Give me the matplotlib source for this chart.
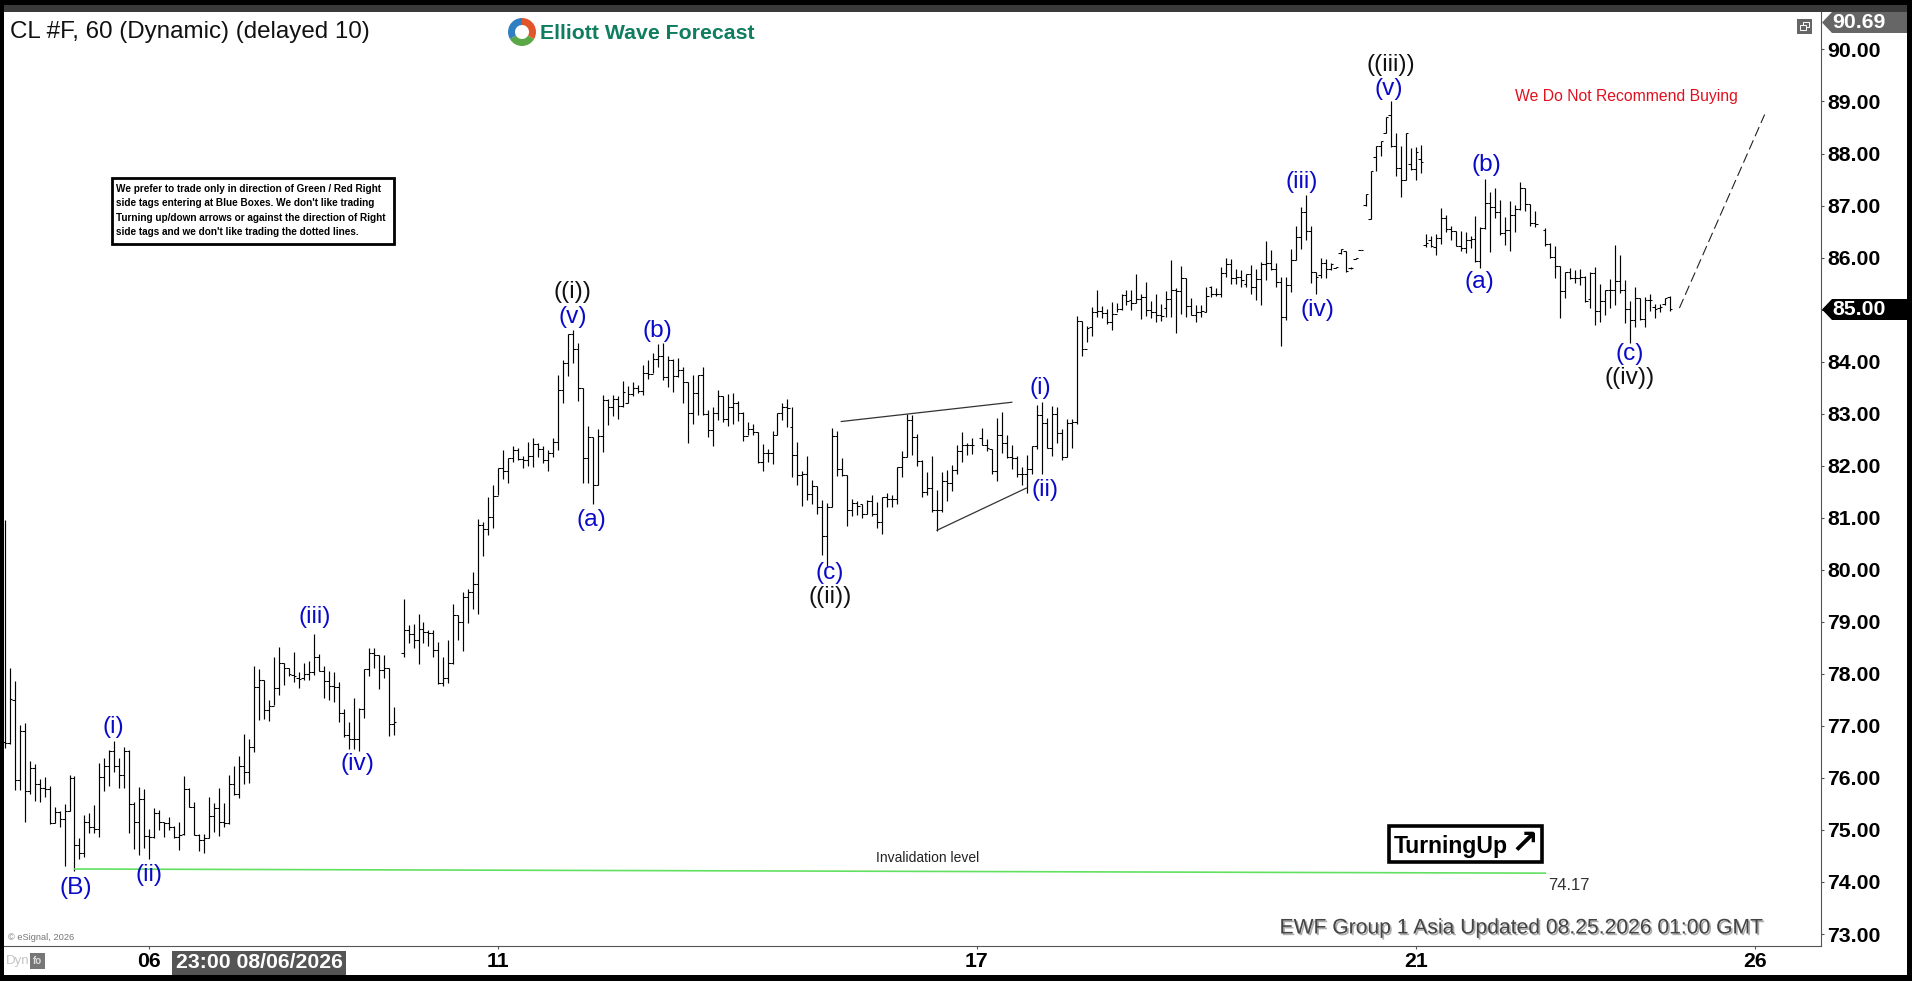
import numpy as np
import matplotlib
matplotlib.use("Agg")
import matplotlib.pyplot as plt
import matplotlib.patheffects as pe
from matplotlib.patches import Rectangle, Polygon, Wedge

# ---- data (price per 60 min bar, None = no bar) ----
opens = [
    76.70,76.67,77.50,75.96,76.90,75.74,76.19,75.88,75.80,75.79,
    75.13,75.35,75.22,75.37,75.99,74.72,74.56,75.16,75.05,75.02,
    76.01,76.22,76.52,76.23,76.06,76.52,75.50,75.15,75.60,74.88,
    74.86,75.33,75.16,75.13,75.05,74.86,74.93,75.78,75.45,74.90,
    74.81,74.84,75.26,75.42,75.16,75.14,75.88,75.69,76.23,76.12,
    76.59,77.74,77.88,77.30,77.39,77.72,78.21,78.11,77.98,77.93,
    77.93,77.99,78.04,78.32,78.05,77.86,77.77,77.74,77.24,76.82,
    76.74,76.74,77.32,78.09,78.41,78.36,78.07,78.11,77.03,None,
    78.41,78.84,78.77,78.66,78.87,78.81,78.79,78.46,77.82,77.93,
    78.20,79.13,79.00,79.47,79.57,79.72,80.86,80.78,81.02,81.42,
    81.95,81.90,82.14,82.31,82.12,82.11,82.19,82.42,82.33,82.11,
    82.24,82.46,83.45,83.97,84.53,84.24,83.49,82.15,82.56,81.63,
    82.57,83.26,83.13,83.28,83.15,83.21,83.38,83.50,83.44,83.79,
    83.76,84.06,84.11,83.70,84.03,83.72,83.84,83.60,83.01,83.39,
    83.74,82.99,82.69,83.01,83.34,82.89,83.13,83.20,83.02,82.58,
    82.70,82.64,82.08,82.25,82.24,82.59,83.01,83.12,82.74,82.21,
    81.82,81.85,81.46,81.62,81.21,80.65,81.21,82.57,81.93,81.82,
    81.15,81.28,81.26,81.07,81.33,81.07,80.92,81.39,81.37,81.37,
    81.98,82.16,82.88,82.56,82.10,81.50,81.57,81.14,81.15,81.71,
    81.66,81.92,82.28,82.40,82.39,None,82.53,82.40,82.33,81.89,
    82.59,82.43,82.16,82.14,81.85,81.85,81.93,82.38,82.98,82.83,
    82.35,82.99,82.62,82.16,82.83,82.85,84.79,84.24,84.66,84.96,
    84.98,84.94,84.77,84.91,85.02,85.28,85.18,85.12,85.20,85.24,
    85.00,84.96,84.90,85.04,85.20,85.38,85.36,85.60,85.07,84.90,
    84.96,84.95,85.44,85.30,85.30,85.70,85.88,85.60,85.62,85.50,
    85.68,85.43,85.58,85.88,85.90,85.79,85.54,84.85,85.47,85.95,
    86.40,86.88,86.51,85.73,85.66,85.90,85.79,85.80,86.08,86.13,
    85.80,85.98,86.14,87.01,86.75,87.93,88.15,88.40,88.74,88.14,
    87.73,87.50,87.80,87.70,87.90,86.24,86.34,86.21,86.37,86.76,
    86.55,86.51,86.22,86.18,86.34,86.35,85.94,86.56,87.05,86.97,
    86.88,86.47,86.53,86.81,86.93,87.33,87.03,86.66,None,86.53,
    86.26,86.02,85.84,85.36,85.72,85.60,85.60,85.62,85.20,85.70,
    84.98,85.16,85.37,85.38,85.55,85.38,85.01,84.80,85.22,84.82,
    85.19,85.06,85.03,85.10,85.25,
]
highs = [
    80.96,78.11,77.86,77.01,77.05,76.32,76.26,75.97,76.01,75.84,
    75.45,75.37,75.50,76.05,76.04,74.84,75.29,75.33,75.48,76.28,
    76.38,76.54,76.71,76.38,76.59,76.54,75.54,75.82,75.79,75.01,
    75.42,75.38,75.16,75.25,75.08,75.15,76.04,75.80,75.54,74.93,
    74.93,75.63,75.52,75.80,75.52,76.05,76.23,76.42,76.84,76.74,
    78.15,78.09,77.88,77.50,78.32,78.51,78.20,78.12,78.42,78.04,
    78.20,78.25,78.77,78.38,78.15,78.05,78.03,77.84,77.32,77.07,
    77.53,77.34,78.09,78.49,78.49,78.36,78.36,78.11,77.36,None,
    79.43,78.94,78.96,79.16,79.00,78.85,78.85,78.61,78.32,78.65,
    79.35,79.13,79.58,79.64,79.96,80.97,80.91,81.39,81.63,81.95,
    82.31,82.14,82.37,82.35,82.19,82.45,82.53,82.43,82.38,82.31,
    82.54,83.74,84.04,84.54,84.60,84.35,83.50,82.76,82.56,82.70,
    83.36,83.28,83.36,83.34,83.63,83.53,83.60,83.55,83.94,84.03,
    84.16,84.34,84.35,84.10,84.06,84.08,83.90,83.60,83.74,83.74,
    83.90,83.07,83.12,83.45,83.34,83.38,83.39,83.24,83.03,82.85,
    82.80,82.64,82.41,82.33,82.67,83.01,83.21,83.29,83.12,82.45,
    81.89,82.19,81.73,81.62,81.35,81.28,82.72,82.67,82.14,81.82,
    81.36,81.33,81.27,81.35,81.44,81.31,81.39,81.47,81.44,81.98,
    82.28,82.99,82.97,82.61,82.11,81.87,82.19,81.53,81.87,81.92,
    82.01,82.39,82.65,82.43,82.53,None,82.72,82.51,82.33,82.91,
    83.04,82.59,82.40,82.19,81.97,82.21,82.38,83.17,83.22,82.91,
    83.14,83.12,82.70,82.89,82.89,84.87,84.79,84.68,85.05,85.38,
    85.07,85.02,85.15,85.12,85.30,85.38,85.38,85.68,85.31,85.54,
    85.17,85.30,85.10,85.36,85.95,85.41,85.84,85.60,85.22,85.09,
    85.09,85.44,85.46,85.41,85.82,86.00,85.97,85.79,85.76,85.68,
    85.86,85.79,85.92,86.32,86.15,85.89,85.63,85.62,86.16,86.61,
    86.97,87.20,86.61,85.73,86.00,85.97,85.89,85.81,86.16,86.13,
    85.81,86.00,86.15,87.23,87.66,88.15,88.24,88.71,89.01,88.39,
    88.14,88.39,88.10,88.12,88.16,86.46,86.42,86.46,86.95,86.82,
    86.60,86.51,86.51,86.50,86.42,86.80,86.58,87.51,87.27,87.33,
    87.11,86.78,87.08,87.01,87.46,87.33,87.03,86.90,None,86.56,
    86.28,86.22,85.84,85.73,85.80,85.76,85.78,85.64,85.72,85.82,
    85.49,85.38,85.58,86.24,86.05,85.56,85.17,85.43,85.23,85.25,
    85.30,85.10,85.10,85.23,85.26,
]
lows = [
    76.57,76.65,75.76,75.77,75.15,75.70,75.56,75.53,75.63,75.11,
    75.14,75.06,74.30,75.37,74.22,74.44,74.49,74.95,74.94,74.87,
    75.74,75.85,76.12,75.80,75.80,74.94,74.63,74.52,74.65,74.44,
    74.84,75.00,74.86,75.00,74.84,74.61,74.90,75.44,74.90,74.60,
    74.56,74.84,74.97,74.88,75.06,75.11,75.67,75.61,75.89,75.91,
    76.50,77.11,77.13,77.10,77.40,77.59,77.79,77.95,77.85,77.72,
    77.88,77.89,77.98,78.05,77.54,77.50,77.45,77.08,76.78,76.56,
    76.56,76.52,77.16,77.95,78.12,77.71,77.93,76.81,76.82,None,
    78.32,78.59,78.49,78.18,78.59,78.54,78.32,77.80,77.77,77.82,
    78.19,78.66,78.43,78.97,79.25,79.16,80.27,80.66,80.81,81.44,
    81.75,81.66,82.08,82.11,81.96,82.00,81.98,82.16,82.06,81.90,
    82.16,82.31,83.21,83.73,83.97,83.25,81.66,81.66,81.26,81.63,
    82.27,82.78,82.96,82.90,83.13,83.20,83.34,83.40,83.36,83.66,
    83.78,83.90,83.65,83.52,83.42,83.70,83.20,82.44,82.81,82.97,
    82.97,82.55,82.38,82.88,82.85,82.77,82.81,82.86,82.48,82.60,
    82.60,82.06,81.89,82.08,82.03,82.59,82.88,82.74,81.79,81.63,
    81.23,81.34,81.26,81.08,80.28,80.07,81.20,81.81,81.80,80.85,
    81.04,81.05,81.00,81.07,81.04,80.81,80.69,81.20,81.20,81.27,
    81.78,82.16,82.21,82.00,81.40,81.44,81.12,80.75,81.12,81.33,
    81.52,81.84,82.08,82.21,82.22,None,82.40,82.29,81.85,81.71,
    82.25,82.14,81.93,81.79,81.63,81.48,81.84,82.32,81.85,82.35,
    82.19,82.43,82.11,82.16,82.34,82.80,84.11,84.37,84.49,84.86,
    84.83,84.73,84.61,84.96,85.00,85.09,85.00,85.12,84.82,84.88,
    84.83,84.77,84.79,84.85,84.86,84.56,84.91,84.86,84.90,84.77,
    84.86,84.95,85.25,85.26,85.25,85.62,85.49,85.49,85.44,85.43,
    85.31,85.18,85.09,85.56,85.76,85.43,84.30,84.81,85.34,85.95,
    86.16,86.34,85.52,85.30,85.60,85.60,85.77,85.80,86.07,85.73,
    85.79,85.98,86.14,87.00,86.75,87.67,87.96,88.40,88.12,87.57,
    87.17,87.49,87.68,87.50,87.63,86.21,86.20,86.05,86.26,86.50,
    86.33,86.22,86.12,86.08,86.18,85.92,85.80,86.55,86.10,86.76,
    86.44,86.24,86.13,86.50,86.92,86.90,86.60,86.58,None,86.23,
    85.99,85.60,84.83,85.22,85.58,85.51,85.48,85.14,85.03,84.71,
    84.77,84.89,85.03,85.08,85.32,84.75,84.35,84.66,84.80,84.66,
    84.98,84.83,84.96,85.09,84.98,
]
closes = [
    76.67,77.51,75.96,76.90,75.74,76.19,75.88,75.80,75.79,75.13,
    75.35,75.22,75.37,75.99,74.72,74.56,75.16,75.05,75.02,76.01,
    76.22,76.52,76.23,76.06,76.52,75.50,75.15,75.60,74.88,74.86,
    75.33,75.16,75.13,75.05,74.86,74.90,75.78,75.45,74.90,74.81,
    74.84,75.26,75.42,75.16,75.14,75.88,75.69,76.23,76.12,76.59,
    77.74,77.88,77.30,77.39,77.72,78.21,78.11,78.00,77.95,77.91,
    77.99,78.04,78.32,78.05,77.86,77.77,77.74,77.24,76.82,76.74,
    76.74,77.32,78.09,78.41,78.36,78.07,78.11,77.03,77.07,None,
    78.84,78.77,78.66,78.87,78.81,78.79,78.46,77.82,77.93,78.20,
    79.13,79.00,79.47,79.57,79.72,80.86,80.78,81.02,81.42,81.95,
    81.90,82.14,82.31,82.12,82.11,82.19,82.42,82.33,82.11,82.24,
    82.46,83.45,83.97,84.53,84.24,83.49,82.15,82.56,81.63,82.57,
    83.26,83.13,83.28,83.15,83.42,83.38,83.50,83.44,83.79,83.76,
    84.06,84.11,83.70,84.03,83.72,83.84,83.60,83.01,83.39,83.74,
    82.99,82.69,83.01,83.34,82.89,83.13,83.20,83.02,82.58,82.70,
    82.64,82.08,82.25,82.24,82.59,83.01,83.12,83.10,82.21,81.82,
    81.85,81.46,81.62,81.21,80.65,81.21,82.57,81.93,81.82,81.15,
    81.28,81.22,81.07,81.33,81.07,80.92,81.39,81.37,81.37,81.98,
    82.16,82.88,82.56,82.10,81.50,81.57,81.14,81.15,81.71,81.66,
    81.92,82.28,82.40,82.39,82.39,None,82.40,82.34,81.89,82.59,
    82.43,82.16,82.14,81.85,81.85,81.93,82.38,82.98,82.83,82.35,
    82.99,82.62,82.16,82.83,82.85,84.79,84.24,84.64,84.96,84.98,
    84.94,84.77,84.91,85.02,85.28,85.17,85.12,85.20,85.24,85.00,
    84.96,84.90,84.88,85.20,85.38,85.36,85.60,85.07,84.90,84.96,
    84.97,85.27,85.30,85.30,85.70,85.88,85.60,85.62,85.57,85.68,
    85.43,85.58,85.88,85.90,85.79,85.54,84.85,85.47,85.95,86.40,
    86.88,86.51,85.73,85.62,85.90,85.79,85.88,85.81,86.16,85.74,
    85.80,85.99,86.15,87.23,87.66,88.15,88.24,88.71,88.14,87.73,
    87.50,88.39,87.70,88.03,87.83,86.29,86.22,86.37,86.76,86.55,
    86.51,86.22,86.18,86.34,86.35,85.94,86.56,87.05,86.97,86.88,
    86.47,86.53,86.81,86.93,87.33,87.03,86.66,86.65,None,86.26,
    86.02,85.84,85.36,85.72,85.60,85.60,85.62,85.16,85.70,84.98,
    85.16,85.37,85.38,85.55,85.38,85.01,84.80,85.22,84.82,85.19,
    85.19,85.02,85.06,85.22,85.01,
]

price_ticks = list(range(73, 91))
date_bars = [29, 99, 195, 283, 351]
date_labels = ["06", "11", "17", "21", "26"]

blue_labels = ["(B)", "(i)", "(ii)", "(iii)", "(iv)", "(v)", "(a)", "(b)", "(c)",
               "(i)", "(ii)", "(iii)", "(iv)", "(v)", "(a)", "(b)", "(c)"]
blue_bars = [14.2, 21.8, 28.9, 62.2, 70.7, 114, 117.7, 130.9, 165.4,
             207.7, 208.7, 260.2, 263.2, 277.6, 295.7, 297.2, 326]
blue_prices = [73.88, 76.97, 74.13, 79.10, 76.27, 84.86, 80.95, 84.58, 79.94,
               83.50, 81.54, 87.46, 85.00, 89.24, 85.54, 87.77, 84.14]

black_labels = ["((i))", "((ii))", "((iii))", "((iv))"]
black_bars = [113.8, 165.6, 278.1, 326]
black_prices = [85.33, 79.47, 89.71, 83.69]

invalid_bars = [14, 309]
invalid_prices = [74.25, 74.17]
wedge_top_bars = [167.8, 202]
wedge_top_prices = [82.85, 83.22]
wedge_low_bars = [187, 204.9]
wedge_low_prices = [80.76, 81.57]
path_bars = [335.9, 353]
path_prices = [85.03, 88.75]

W, H = 1912, 981
plt.rcParams["font.family"] = ["Liberation Sans", "DejaVu Sans"]

fig = plt.figure(figsize=(W / 100, H / 100), dpi=100, facecolor="black")


def px_axes(z):
    a = fig.add_axes([0, 0, 1, 1], zorder=z)
    a.set_xlim(0, W)
    a.set_ylim(H, 0)
    a.axis("off")
    return a


# white window behind the chart
bg = px_axes(0)
bg.add_patch(Rectangle((4, 12), 1903, 963, fc="white", ec="none"))
bg.add_patch(Rectangle((4, 5), 1903, 7, fc="#3a3a3a", ec="none"))

# price pane, bars are 4.986 px apart
left, right, top, bottom = 4, 1821, 12, 946
ax = fig.add_axes([left / W, 1 - bottom / H, (right - left) / W, (bottom - top) / H], zorder=1)
ax.patch.set_alpha(0)
ax.set_xlim(-0.14, 364.3)
ax.set_ylim(72.77, 90.72)

o = np.array(opens, dtype=float)
h = np.array(highs, dtype=float)
l = np.array(lows, dtype=float)
c = np.array(closes, dtype=float)
x = np.arange(len(h))
ok = ~np.isnan(h)

ax.vlines(x[ok], l[ok], h[ok], colors="black", linewidth=0.85)
ax.hlines(o[ok], x[ok] - 0.5, x[ok], colors="black", linewidth=0.75)
ax.hlines(c[ok], x[ok], x[ok] + 0.5, colors="black", linewidth=0.75)

ax.plot(invalid_bars, invalid_prices, color="#62e062", linewidth=1.2)
ax.plot(wedge_top_bars, wedge_top_prices, color="#333333", linewidth=0.9)
ax.plot(wedge_low_bars, wedge_low_prices, color="#333333", linewidth=0.9)
ax.plot(path_bars, path_prices, color="#222222", linewidth=0.8, dashes=(9, 4))

for s, bx, by in zip(blue_labels, blue_bars, blue_prices):
    ax.text(bx, by, s, color="#0a0ac8", fontsize=17.6, ha="center", va="center")
for s, bx, by in zip(black_labels, black_bars, black_prices):
    ax.text(bx, by, s, color="#111111", fontsize=17.6, ha="center", va="center")

ax.spines["top"].set_visible(False)
ax.spines["left"].set_visible(False)
ax.spines["right"].set_color("#555555")
ax.spines["bottom"].set_color("#555555")
ax.yaxis.tick_right()
ax.set_yticks(price_ticks)
# 85.00 is shown by the last price flag instead
ax.set_yticklabels(["" if p == 85 else f"{p:.2f}" for p in price_ticks], fontsize=15.3, fontweight="bold")
ax.set_xticks(date_bars)
ax.set_xticklabels(date_labels, fontsize=15.3, fontweight="bold")
ax.tick_params(axis="y", length=2, width=0.8, color="#555555", pad=2.5)
ax.tick_params(axis="x", length=2, width=0.8, color="#555555", pad=2)

# everything that sits on the screen rather than on the scales
top_ax = px_axes(3)

top_ax.text(10, 32, "CL #F, 60 (Dynamic) (delayed 10)", fontsize=17.4, va="center", color="#111111")

# logo ring
for start, end, col in [(30, 150, "#5aa845"), (150, 270, "#2f7fc1"), (270, 390, "#e2552b")]:
    top_ax.add_patch(Wedge((522, 32), 14, start, end, width=7, fc=col, ec="none"))
top_ax.text(540, 33.5, "Elliott Wave Forecast", fontsize=15.3, fontweight="bold",
            color="#0f7d5f", va="center")

# disclaimer box
top_ax.add_patch(Rectangle((112, 178), 282, 66, fc="white", ec="black", lw=2))
note_lines = ["We prefer to trade only in direction of Green / Red Right",
              "side tags entering at Blue Boxes. We don't like trading",
              "Turning up/down arrows or against the direction of Right",
              "side tags and we don't like trading the dotted lines."]
for i, line in enumerate(note_lines):
    top_ax.text(116, 188.5 + i * 14.6, line, fontsize=7.2,
                fontweight="bold", color="black", va="center")

top_ax.text(1515, 96, "We Do Not Recommend Buying", fontsize=11.3, color="#e0101e", va="center")

# turning up tag
top_ax.add_patch(Rectangle((1389.5, 825.5), 153, 36, fc="white", ec="black", lw=2.6))
top_ax.text(1394, 846, "TurningUp", fontsize=16.6, fontweight="bold", color="black", va="center")
top_ax.text(1524, 844, "\u2197", family="DejaVu Sans", fontsize=24, fontweight="bold",
            color="black", va="center", ha="center")

top_ax.text(928, 858, "Invalidation level", fontsize=10, color="#222222", ha="center", va="center")
top_ax.text(1548, 885, "74.17", fontsize=12, color="#333333", va="center")

top_ax.text(1764, 928, "EWF Group 1 Asia Updated 08.25.2026 01:00 GMT", fontsize=15.2,
            color="#444444", ha="right", va="center",
            path_effects=[pe.withSimplePatchShadow(offset=(1.2, -1.2), shadow_rgbFace="#999999", alpha=0.8)])

top_ax.text(8, 938, "\u00a9 eSignal, 2026", fontsize=6.7, color="#777777", va="center")
top_ax.text(6, 961, "Dyn", fontsize=9.5, color="#c4c4c4", va="center")
top_ax.add_patch(Rectangle((30, 953), 15, 16, fc="#777777", ec="none"))
top_ax.text(37.5, 961, "fo", fontsize=7, fontweight="bold", color="#dddddd", ha="center", va="center")

# crosshair date tag
top_ax.add_patch(Rectangle((172, 951), 174, 24, fc="#555555", ec="none"))
top_ax.text(259, 962, "23:00 08/06/2026", fontsize=15.3, fontweight="bold", color="white",
            ha="center", va="center")

# price flags on the axis
top_ax.add_patch(Polygon([(1822, 22.5), (1832, 12), (1907, 12), (1907, 33), (1832, 33)], fc="#666666", ec="none"))
top_ax.text(1832, 22.5, "90.69", fontsize=15.3, fontweight="bold", color="white", va="center")
top_ax.add_patch(Polygon([(1822, 309.5), (1832, 299), (1907, 299), (1907, 320), (1832, 320)], fc="black", ec="none"))
top_ax.text(1832, 309.5, "85.00", fontsize=15.3, fontweight="bold", color="white", va="center")

# window restore button
top_ax.add_patch(Rectangle((1797, 19), 15, 15, fc="#666666", ec="none"))
top_ax.add_patch(Rectangle((1803, 22), 6, 5, fc="none", ec="white", lw=0.7))
top_ax.add_patch(Rectangle((1800, 25), 6, 5, fc="#666666", ec="white", lw=0.7))

fig.savefig("out.png", dpi=100, facecolor="black")
